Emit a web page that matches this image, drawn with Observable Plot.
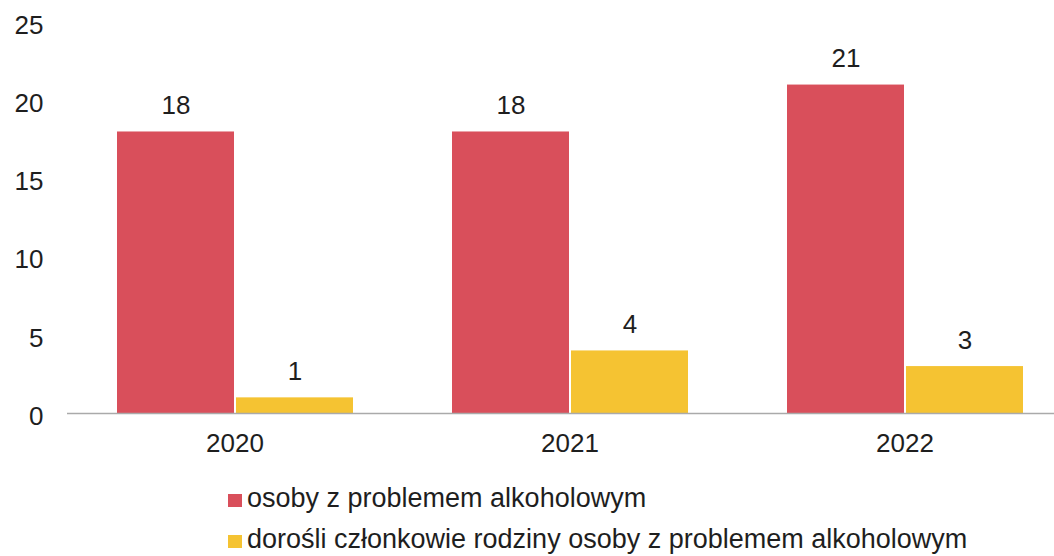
<!DOCTYPE html>
<html>
<head>
<meta charset="utf-8">
<script src="https://cdn.jsdelivr.net/npm/d3@7"></script>
<script src="https://cdn.jsdelivr.net/npm/@observablehq/plot@0.6"></script>
<style>
  html, body { margin: 0; padding: 0; background: #fff; overflow: hidden; }
  body { position: relative; width: 1054px; height: 556px; font-family: "Liberation Sans", Arial, sans-serif; color: #1e1e1e; }
  #legend { position: absolute; left: 228px; top: 478px; }
  .row { height: 41px; line-height: 41px; font-size: 27px; white-space: nowrap; }
  .sw { display: inline-block; width: 14px; height: 13px; margin-right: 5px; }
</style>
</head>
<body>
<div id="chart"></div>
<div id="legend"></div>
<script>
const years = ["2020", "2021", "2022"];
const series = ["osoby z problemem alkoholowym", "dorośli członkowie rodziny osoby z problemem alkoholowym"];
const alcohol = [18, 18, 21];
const family = [1, 4, 3];
const yTicks = [0, 5, 10, 15, 20, 25];
const colors = ["#d94f5b", "#f5c332"];

const rows = [];
years.forEach((y, i) => {
  rows.push({year: y, series: series[0], value: alcohol[i]});
  rows.push({year: y, series: series[1], value: family[i]});
});

const chart = Plot.plot({
  width: 1054,
  height: 470,
  marginTop: 22,
  marginBottom: 57,
  marginLeft: 67,
  marginRight: 0,
  style: {fontFamily: "'Liberation Sans', Arial, sans-serif", fontSize: "26px", color: "#1e1e1e", background: "#fff"},
  facet: {data: rows, x: "year"},
  fx: {domain: years, range: [67, 1072], padding: 0, axis: "bottom", label: null, tickSize: 0, tickPadding: 20},
  x: {domain: series, paddingInner: 0, paddingOuter: 0.4, axis: null},
  y: {domain: [0, 25], label: null, axis: null},
  color: {domain: series, range: colors},
  marks: [
    Plot.axisY({ticks: yTicks, tickSize: 0, tickPadding: 24, label: null, dy: 3, fontSize: 26}),
    Plot.barY(rows, {x: "series", y: "value", fill: "series", insetLeft: 1, insetRight: 1}),
    Plot.ruleY([0], {stroke: "#aaa", strokeWidth: 1.5}),
    Plot.text(rows, {x: "series", y: "value", text: d => String(d.value), dy: -26, lineAnchor: "middle", fill: "#1e1e1e", fontSize: 26})
  ]
});
document.getElementById("chart").appendChild(chart);

const legend = document.getElementById("legend");
series.forEach((s, i) => {
  const row = document.createElement("div");
  row.className = "row";
  const sw = document.createElement("span");
  sw.className = "sw";
  sw.style.background = colors[i];
  row.appendChild(sw);
  const t = document.createElement("span");
  t.textContent = s;
  row.appendChild(t);
  legend.appendChild(row);
});
</script>
</body>
</html>
